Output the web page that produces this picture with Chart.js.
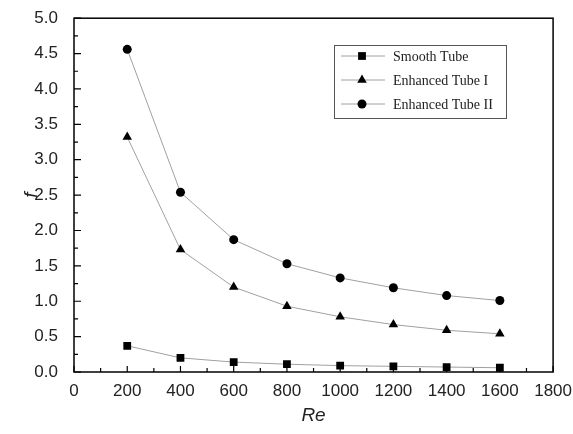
<!DOCTYPE html>
<html>
<head>
<meta charset="utf-8">
<script src="https://cdn.jsdelivr.net/npm/chart.js@4/dist/chart.umd.min.js"></script>
<style>
  html, body { margin: 0; padding: 0; background: #fff; }
  #wrap { width: 573px; height: 434px; }
</style>
</head>
<body>
<div id="wrap"><canvas id="c"></canvas></div>
<script>
// Re values on the x axis
const reValues = [200, 400, 600, 800, 1000, 1200, 1400, 1600];
const smoothTube = [0.37, 0.20, 0.14, 0.11, 0.09, 0.08, 0.07, 0.06];
const enhancedTube1 = [3.32, 1.73, 1.20, 0.93, 0.78, 0.67, 0.59, 0.54];
const enhancedTube2 = [4.56, 2.54, 1.87, 1.53, 1.33, 1.19, 1.08, 1.01];
const seriesNames = ['Smooth Tube', 'Enhanced Tube I', 'Enhanced Tube II'];

const toPoints = (ys) => reValues.map((x, i) => ({ x: x, y: ys[i] }));

function makeSet(label, ys, style, radius) {
    return {
        label: label,
        data: toPoints(ys),
        borderColor: '#a0a0a0',
        borderWidth: 1,
        pointStyle: style,
        pointRadius: radius,
        pointBackgroundColor: '#000',
        pointBorderColor: '#000',
        pointBorderWidth: 0,
        tension: 0,
        fill: false
    };
}

// frame, inward ticks and the legend box
const framePlugin = {
    id: 'frame',
    afterDraw(chart) {
        const ctx = chart.ctx;
        const a = chart.chartArea;
        const xs = chart.scales.x, ys = chart.scales.y;
        ctx.save();
        ctx.strokeStyle = '#000';
        ctx.lineWidth = 1.5;
        ctx.strokeRect(a.left, a.top, a.right - a.left, a.bottom - a.top);

        ctx.lineWidth = 1.2;
        ctx.beginPath();
        for (let v = 0; v <= 1800; v += 100) {
            const px = xs.getPixelForValue(v);
            const len = v % 200 === 0 ? 6 : 4;
            ctx.moveTo(px, a.bottom);
            ctx.lineTo(px, a.bottom - len);
        }
        for (let k = 0; k <= 20; k++) {
            const py = ys.getPixelForValue(k * 0.25);
            const len = k % 2 === 0 ? 7 : 4;
            ctx.moveTo(a.left, py);
            ctx.lineTo(a.left + len, py);
        }
        ctx.stroke();

        // legend
        const lx = 334, ly = 45, lw = 172, lh = 73;
        ctx.fillStyle = '#fff';
        ctx.fillRect(lx, ly, lw, lh);
        ctx.strokeStyle = '#555';
        ctx.lineWidth = 1;
        ctx.strokeRect(lx + 0.5, ly + 0.5, lw, lh);
        ctx.font = '14px "Liberation Serif", "Times New Roman", serif';
        ctx.textBaseline = 'middle';
        chart.data.datasets.forEach((ds, i) => {
            const y = ly + 11 + i * 24;
            ctx.strokeStyle = '#a0a0a0';
            ctx.lineWidth = 1;
            ctx.beginPath();
            ctx.moveTo(lx + 7, y);
            ctx.lineTo(lx + 51, y);
            ctx.stroke();
            ctx.fillStyle = '#000';
            ctx.strokeStyle = '#000';
            Chart.helpers.drawPoint(ctx, { pointStyle: ds.pointStyle, radius: ds.pointRadius, borderWidth: 0 }, lx + 28, y);
            ctx.fillStyle = '#222';
            ctx.fillText(seriesNames[i], lx + 59, y + 1);
        });
        ctx.restore();
    }
};

new Chart(document.getElementById('c'), {
    type: 'line',
    data: {
        datasets: [
            makeSet(seriesNames[0], smoothTube, 'rect', 5.5),
            makeSet(seriesNames[1], enhancedTube1, 'triangle', 5.5),
            makeSet(seriesNames[2], enhancedTube2, 'circle', 4.5)
        ]
    },
    options: {
        responsive: true,
        maintainAspectRatio: false,
        animation: false,
        layout: { padding: { top: 17, right: 19, left: 0, bottom: 0 } },
        plugins: {
            legend: { display: false },
            tooltip: { enabled: false }
        },
        scales: {
            x: {
                type: 'linear',
                min: 0,
                max: 1800,
                grid: { display: false },
                border: { display: false },
                ticks: {
                    stepSize: 200,
                    padding: 1,
                    maxRotation: 0,
                    color: '#222',
                    font: { family: 'Liberation Sans, Arial', size: 17 },
                    callback: (v) => String(v)
                },
                title: {
                    display: true,
                    text: 'Re',
                    color: '#222',
                    padding: { top: 0, bottom: 7 },
                    font: { family: 'Liberation Sans, Arial', size: 19, style: 'italic' }
                },
                afterFit(scale) { scale.height = 62; }
            },
            y: {
                min: 0,
                max: 5,
                grid: { display: false },
                border: { display: false },
                ticks: {
                    stepSize: 0.5,
                    padding: 8,
                    color: '#222',
                    font: { family: 'Liberation Sans, Arial', size: 17 },
                    callback: (v) => v.toFixed(1)
                },
                title: {
                    display: true,
                    text: 'f',
                    color: '#222',
                    padding: { top: 20, bottom: 0 },
                    font: { family: 'Liberation Sans, Arial', size: 19, style: 'italic' }
                },
                afterFit(scale) { scale.width = 74; }
            }
        }
    },
    plugins: [framePlugin]
});
</script>
</body>
</html>
